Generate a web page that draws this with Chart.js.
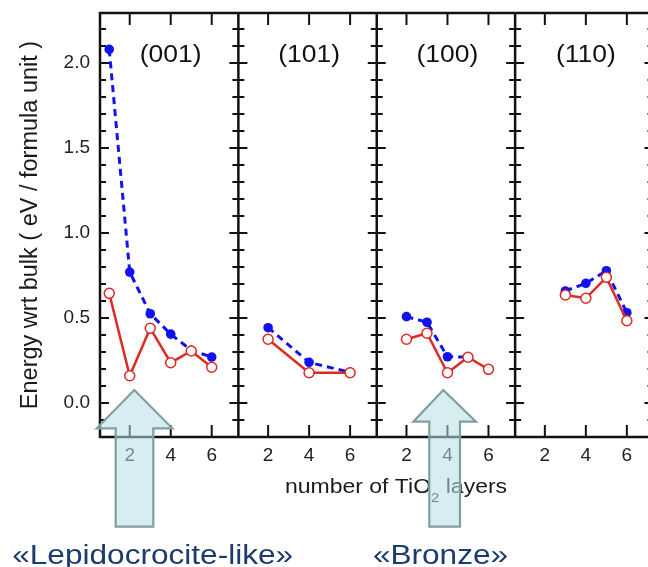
<!DOCTYPE html>
<html><head><meta charset="utf-8">
<script src="https://cdn.jsdelivr.net/npm/chart.js@4"></script>
<style>html,body{margin:0;padding:0;overflow:hidden;background:#fff}canvas{display:block}</style>
</head><body>
<canvas id="c" width="660" height="567"></canvas>
<script>
// ---- data ----
const layers = [1, 2, 3, 4, 5, 6];
const facets = ['(001)', '(101)', '(100)', '(110)'];
const xTickValues = [2, 4, 6];
const xTickLabels = ['2', '4', '6'];
const yTickValues = [0, 0.5, 1, 1.5, 2];
const yTickLabels = ['0.0', '0.5', '1.0', '1.5', '2.0'];
const blue001 = [2.08, 0.77, 0.525, 0.405, 0.31, 0.27];
const red001  = [0.645, 0.16, 0.44, 0.237, 0.306, 0.21];
const blue101 = [null, 0.443, null, 0.239, null, 0.18];
const red101  = [null, 0.375, null, 0.178, null, 0.178];
const blue100 = [null, 0.508, 0.475, 0.272, 0.27, null];
const red100  = [null, 0.375, 0.41, 0.178, 0.269, 0.198];
const blue110 = [null, null, 0.659, 0.704, 0.778, 0.531];
const red110  = [null, null, 0.635, 0.616, 0.739, 0.484];
const yTitle = 'Energy wrt bulk ( eV / formula unit )';
const arrowLabels = ['«Lepidocrocite-like»', '«Bronze»'];

const blueSeries = [blue001, blue101, blue100, blue110];
const redSeries = [red001, red101, red100, red110];

// ---- layout ----
const X_MIN = 0.55, X_MAX = 7.3, SPAN = X_MAX - X_MIN, NP = facets.length;
const FONT = "'Liberation Sans', Arial, Helvetica, sans-serif";
const BLUE = '#1212ee', RED = '#dd2a24';

const toPanel = (p, arr) => layers.map((l, i) => arr[i] == null ? null : { x: p * SPAN + l - X_MIN, y: arr[i] }).filter(Boolean);

const datasets = [];
for (let p = 0; p < NP; p++) {
  datasets.push({
    data: toPanel(p, redSeries[p]), order: 0,
    borderColor: RED, borderWidth: 2.5, pointRadius: 5, pointBorderWidth: 1.5,
    pointBackgroundColor: '#fff', pointBorderColor: RED, tension: 0
  });
  datasets.push({
    data: toPanel(p, blueSeries[p]), order: 1,
    borderColor: BLUE, borderWidth: 3, borderDash: [7, 5], pointRadius: 4.8, pointBorderWidth: 0,
    pointBackgroundColor: BLUE, pointBorderColor: BLUE, tension: 0
  });
}

function stretched(ctx, text, cx, y, sx) {
  ctx.save(); ctx.translate(cx, y); ctx.scale(sx, 1);
  ctx.textAlign = 'center'; ctx.textBaseline = 'alphabetic';
  ctx.fillText(text, 0, 0); ctx.restore();
}
function arrow(ctx, a) {
  ctx.beginPath();
  ctx.moveTo(a.tipX, a.tipY);
  ctx.lineTo(a.headR, a.headY);
  ctx.lineTo(a.shaftR, a.headY);
  ctx.lineTo(a.shaftR, a.bottom);
  ctx.lineTo(a.shaftL, a.bottom);
  ctx.lineTo(a.shaftL, a.headY);
  ctx.lineTo(a.headL, a.headY);
  ctx.closePath();
  ctx.fill(); ctx.stroke();
}

const panels = {
  id: 'panels',
  beforeDatasetsDraw(chart) {
    const ctx = chart.ctx, xs = chart.scales.x, ys = chart.scales.y;
    const { top, bottom } = chart.chartArea;
    const bx = [];
    for (let k = 0; k <= NP; k++) bx.push(xs.getPixelForValue(k * SPAN));
    ctx.save();
    ctx.strokeStyle = '#111'; ctx.lineWidth = 2.5; ctx.lineCap = 'butt';
    ctx.strokeRect(bx[0], top, bx[NP] - bx[0], bottom - top);
    for (let k = 1; k < NP; k++) { ctx.beginPath(); ctx.moveTo(bx[k], top); ctx.lineTo(bx[k], bottom); ctx.stroke(); }
    // y ticks
    ctx.lineWidth = 2;
    for (let i = -2; i <= 22; i++) {
      const py = ys.getPixelForValue(i / 10);
      const len = (i % 5 === 0) ? 9 : 6;
      for (let k = 0; k <= NP; k++) {
        const x0 = k === 0 ? bx[k] : bx[k] - len;
        const x1 = k === NP ? bx[k] : bx[k] + len;
        ctx.beginPath(); ctx.moveTo(x0, py); ctx.lineTo(x1, py); ctx.stroke();
      }
    }
    // x ticks
    for (let p = 0; p < NP; p++) {
      for (const t of xTickValues) {
        const px = xs.getPixelForValue(p * SPAN + t - X_MIN);
        ctx.beginPath(); ctx.moveTo(px, top); ctx.lineTo(px, top + 12); ctx.stroke();
        ctx.beginPath(); ctx.moveTo(px, bottom); ctx.lineTo(px, bottom - 12); ctx.stroke();
      }
    }
    ctx.restore();
  },
  afterDraw(chart) {
    const ctx = chart.ctx, xs = chart.scales.x;
    ctx.save();
    // facet titles
    ctx.fillStyle = '#111';
    ctx.font = '23px ' + FONT;
    for (let p = 0; p < NP; p++) {
      const cx = (xs.getPixelForValue(p * SPAN) + xs.getPixelForValue((p + 1) * SPAN)) / 2 + 1.5;
      stretched(ctx, facets[p], cx, 62, 1.15);
    }
    // x title with subscript
    const sx = 1.15, cx = 396, base = 493;
    ctx.fillStyle = '#1a1a1a';
    ctx.font = '20px ' + FONT;
    const p1 = 'number of TiO', p3 = ' layers';
    const w1 = ctx.measureText(p1).width, w3 = ctx.measureText(p3).width;
    ctx.font = '13px ' + FONT;
    const w2 = ctx.measureText('2').width;
    const total = (w1 + w2 + w3) * sx;
    ctx.save(); ctx.translate(cx - total / 2, base); ctx.scale(sx, 1);
    ctx.textAlign = 'left'; ctx.textBaseline = 'alphabetic';
    ctx.font = '20px ' + FONT; ctx.fillText(p1, 0, 0);
    ctx.font = '13px ' + FONT; ctx.fillText('2', w1, 9);
    ctx.font = '20px ' + FONT; ctx.fillText(p3, w1 + w2, 0);
    ctx.restore();
    // arrows
    ctx.fillStyle = 'rgba(183,222,230,0.55)';
    ctx.strokeStyle = '#819f9f'; ctx.lineWidth = 2.2; ctx.lineJoin = 'miter';
    arrow(ctx, { tipX: 134.3, tipY: 390, headY: 428.3, headL: 96.7, headR: 172.3, shaftL: 115.7, shaftR: 153.3, bottom: 526.7 });
    arrow(ctx, { tipX: 443.3, tipY: 390, headY: 421.7, headL: 413.3, headR: 476, shaftL: 429.3, shaftR: 460, bottom: 526.7 });
    // labels under arrows
    ctx.fillStyle = '#1b3c6c';
    ctx.font = '27px ' + FONT;
    stretched(ctx, arrowLabels[0], 152.7, 564, 1.17);
    stretched(ctx, arrowLabels[1], 440.5, 564, 1.17);
    ctx.restore();
  }
};

new Chart(document.getElementById('c'), {
  type: 'line',
  data: { datasets },
  plugins: [panels],
  options: {
    responsive: false, animation: false, devicePixelRatio: 1,
    layout: { padding: { left: 0, right: 6.5, top: 13, bottom: 0 } },
    plugins: { legend: { display: false }, tooltip: { enabled: false } },
    scales: {
      x: {
        type: 'linear', min: 0, max: NP * SPAN,
        grid: { display: false, drawTicks: false }, border: { display: false },
        afterBuildTicks: (s) => {
          const t = [];
          for (let p = 0; p < NP; p++) xTickValues.forEach(v => t.push({ value: p * SPAN + v - X_MIN }));
          s.ticks = t;
        },
        afterFit: (s) => { s.height = 130; s.paddingLeft = 0; s.paddingRight = 0; },
        ticks: {
          autoSkip: false, maxRotation: 0, padding: 7, color: '#222',
          font: { family: FONT, size: 19 },
          callback: (v, i) => xTickLabels[i % xTickLabels.length]
        }
      },
      y: {
        type: 'linear', min: -0.2, max: 2.294,
        grid: { display: false, drawTicks: false }, border: { display: false },
        afterBuildTicks: (s) => { s.ticks = yTickValues.map(v => ({ value: v })); },
        afterFit: (s) => { s.width = 100; s.paddingTop = 0; s.paddingBottom = 0; },
        ticks: {
          padding: 10, color: '#222', font: { family: FONT, size: 19 },
          callback: (v, i) => yTickLabels[i]
        },
        title: { display: true, text: yTitle, color: '#1a1a1a', font: { family: FONT, size: 23.5 }, padding: { top: 16, bottom: 0 } }
      }
    }
  }
});
</script>
</body></html>
